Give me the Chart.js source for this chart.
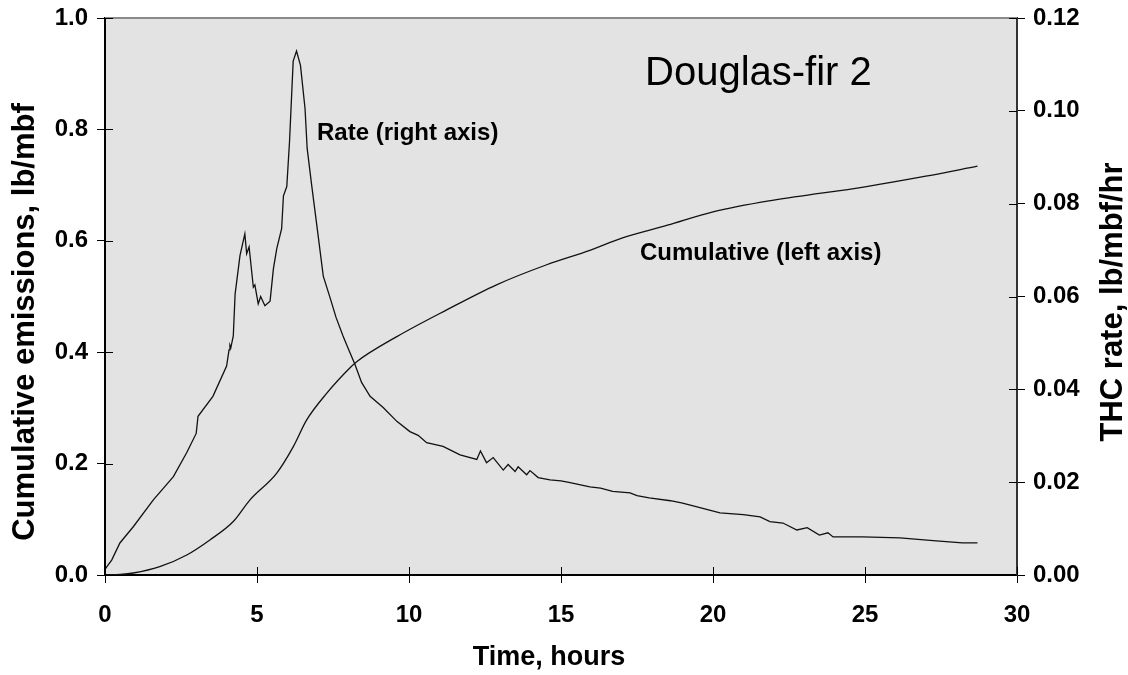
<!DOCTYPE html>
<html>
<head>
<meta charset="utf-8">
<script src="https://cdn.jsdelivr.net/npm/chart.js@4/dist/chart.umd.min.js"></script>
<style>
  body { margin: 0; background: #fff; }
  #grafico { display: block; }
</style>
</head>
<body>
<canvas id="grafico" width="1128" height="675"></canvas>
<script>
// taxa THC (eixo direito): tempo em horas e valor lb/mbf/hr
var rateTime = [0, 0.05, 0.22, 0.49, 0.93, 1.59, 2.25, 2.69, 3.0, 3.06, 3.55, 4.0, 4.08, 4.11, 4.14, 4.22,
    4.28, 4.44, 4.6, 4.66, 4.74, 4.88, 4.93, 5.04, 5.12, 5.26, 5.43, 5.54, 5.65, 5.81, 5.87, 5.98,
    6.07, 6.19, 6.3, 6.43, 6.58, 6.65, 6.8, 6.97, 7.18, 7.4, 7.6, 7.83, 8.0, 8.22, 8.44, 8.72, 9.15, 9.6,
    10.03, 10.3, 10.58, 11.12, 11.4, 11.68, 12.23, 12.35, 12.55, 12.77, 13.1, 13.26, 13.49, 13.59, 13.87, 13.98,
    14.25, 14.64, 15.0, 15.3, 15.95, 16.3, 16.7, 17.27, 17.5, 17.9, 18.6, 19.0, 19.57, 20.23, 21.0, 21.55, 21.87, 22.3,
    22.76, 23.1, 23.5, 23.78, 23.95, 24.3, 24.93, 26.15, 27.24, 28.2, 28.7];
var rateValue = [0.0012, 0.0017, 0.0032, 0.0069, 0.0104, 0.0162, 0.0212, 0.0264, 0.0305, 0.0342, 0.0385, 0.045, 0.0485, 0.0495, 0.049, 0.0515,
    0.0605, 0.0688, 0.0735, 0.0692, 0.0707, 0.062, 0.0625, 0.0584, 0.060, 0.058, 0.059, 0.066, 0.0703, 0.0746, 0.0817, 0.0837,
    0.0934, 0.1107, 0.1129, 0.1098, 0.1005, 0.0919, 0.0839, 0.0752, 0.0644, 0.0598, 0.0555, 0.0515, 0.0488, 0.0454, 0.0415, 0.0385, 0.0361, 0.0331,
    0.0309, 0.0301, 0.0285, 0.0277, 0.0268, 0.0259, 0.0249, 0.0267, 0.0242, 0.0253, 0.0226, 0.0238, 0.0223, 0.0233, 0.0216, 0.0225,
    0.021, 0.0205, 0.0203, 0.0199, 0.019, 0.0187, 0.018, 0.0177, 0.0171, 0.0166, 0.016, 0.0155, 0.0145, 0.0134, 0.013, 0.0125, 0.0115, 0.0112,
    0.0097, 0.0102, 0.0086, 0.0091, 0.0082, 0.0082, 0.0082, 0.008, 0.0074, 0.0069, 0.0069];

// emissoes acumuladas (eixo esquerdo), lb/mbf
var cumTime = [0, 0.5, 0.93, 1.8, 2.69, 3.45, 4.22, 4.77, 5.65, 6.19, 6.63, 7.29, 8.06, 8.28, 9.6,
    11.24, 12.88, 14.53, 15.95, 17, 18.5, 20, 22, 25, 27, 28.7];
var cumValue = [0, 0.001, 0.0036, 0.015, 0.036, 0.063, 0.096, 0.135, 0.183, 0.23, 0.278, 0.326, 0.372, 0.383, 0.428,
    0.476, 0.521, 0.557, 0.583, 0.605, 0.628, 0.652, 0.673, 0.697, 0.716, 0.734];

// rotulos dos eixos
var xTicks = [0, 5, 10, 15, 20, 25, 30];
var leftTicks = [0, 0.2, 0.4, 0.6, 0.8, 1.0];
var rightTicks = [0, 0.02, 0.04, 0.06, 0.08, 0.10, 0.12];

function pontos(xs, ys) {
    return xs.map(function (x, i) { return { x: x, y: ys[i] }; });
}

var fonte = 'Liberation Sans, Arial, Helvetica, sans-serif';

// fundo cinza, borda de cima, marcas internas e textos
var extras = {
    id: 'extras',
    beforeDraw: function (chart) {
        var a = chart.chartArea, c = chart.ctx;
        c.save();
        c.fillStyle = '#e3e3e3';
        c.fillRect(a.left, a.top, a.right - a.left, a.bottom - a.top);
        c.restore();
    },
    afterDraw: function (chart) {
        var a = chart.chartArea, c = chart.ctx, s = chart.scales;
        c.save();
        c.strokeStyle = '#8a8a8a';
        c.lineWidth = 2;
        c.beginPath(); c.moveTo(a.left, a.top); c.lineTo(a.right, a.top); c.stroke();

        c.strokeStyle = '#000';
        c.lineWidth = 1;
        c.beginPath();
        xTicks.forEach(function (t) {
            var px = Math.round(s.x.getPixelForValue(t)) + 0.5;
            c.moveTo(px, a.bottom); c.lineTo(px, a.bottom - 8);
        });
        leftTicks.forEach(function (t) {
            var py = Math.round(s.y.getPixelForValue(t)) + 0.5;
            c.moveTo(a.left, py); c.lineTo(a.left + 8, py);
        });
        rightTicks.forEach(function (t) {
            var py = Math.round(s.y1.getPixelForValue(t)) + 0.5;
            c.moveTo(a.right, py); c.lineTo(a.right - 8, py);
        });
        c.stroke();

        c.fillStyle = '#000';
        c.textBaseline = 'alphabetic';
        c.textAlign = 'left';
        c.font = '40px ' + fonte;
        c.fillText('Douglas-fir 2', 645, 85);
        c.font = 'bold 24px ' + fonte;
        c.fillText('Rate (right axis)', 317, 140);
        c.fillText('Cumulative (left axis)', 640, 260);

        c.textAlign = 'center';
        c.font = 'bold 27px ' + fonte;
        c.fillText('Time, hours', 549, 665);

        c.font = 'bold 31px ' + fonte;
        c.textBaseline = 'middle';
        c.translate(25, 322);
        c.rotate(-Math.PI / 2);
        c.fillText('Cumulative emissions, lb/mbf', 0, 0);
        c.setTransform(1, 0, 0, 1, 0, 0);
        c.translate(1113, 302);
        c.rotate(-Math.PI / 2);
        c.fillText('THC rate, lb/mbf/hr', 0, 0);
        c.restore();
    }
};

var data = {
    datasets: [{
        label: 'Rate',
        data: pontos(rateTime, rateValue),
        yAxisID: 'y1',
        borderColor: '#111',
        borderWidth: 1.3,
        pointRadius: 0,
        tension: 0
    },
    {
        label: 'Cumulative',
        data: pontos(cumTime, cumValue),
        yAxisID: 'y',
        borderColor: '#111',
        borderWidth: 1.3,
        pointRadius: 0,
        cubicInterpolationMode: 'monotone'
    }]
};

var tickFont = { family: fonte, size: 24, weight: 'bold' };

// largura fixa dos eixos verticais, sem folga extra em cima
function eixoVertical(largura) {
    return function (s) {
        s.width = largura;
        s.paddingTop = 0;
        s.paddingBottom = 0;
    };
}

var options = {
    responsive: false,
    animation: false,
    layout: { padding: { top: 18 } },
    plugins: { legend: { display: false }, tooltip: { enabled: false } },
    scales: {
        x: {
            type: 'linear',
            min: 0, max: 30,
            afterFit: function (s) { s.height = 100; },
            afterBuildTicks: function (s) { s.ticks = xTicks.map(function (v) { return { value: v }; }); },
            ticks: { font: tickFont, color: '#000', padding: 18, maxRotation: 0 },
            grid: { drawOnChartArea: false, tickLength: 8, tickColor: '#000' },
            border: { color: '#000', width: 2 }
        },
        y: {
            position: 'left',
            min: 0, max: 1,
            afterFit: eixoVertical(105),
            afterBuildTicks: function (s) { s.ticks = leftTicks.map(function (v) { return { value: v }; }); },
            ticks: { font: tickFont, color: '#000', padding: 9, callback: function (v) { return v.toFixed(1); } },
            grid: { drawOnChartArea: false, tickLength: 8, tickColor: '#000' },
            border: { color: '#000', width: 2 }
        },
        y1: {
            position: 'right',
            min: 0, max: 0.12,
            afterFit: eixoVertical(111),
            afterBuildTicks: function (s) { s.ticks = rightTicks.map(function (v) { return { value: v }; }); },
            ticks: { font: tickFont, color: '#000', padding: 8, callback: function (v) { return v.toFixed(2); } },
            grid: { drawOnChartArea: false, tickLength: 8, tickColor: '#000' },
            border: { color: '#333', width: 2 }
        }
    }
};

var ctx = document.querySelector('#grafico').getContext('2d');
var grafico = new Chart(ctx, {
    type: 'line',
    data: data,
    options: options,
    plugins: [extras]
});
</script>
</body>
</html>
